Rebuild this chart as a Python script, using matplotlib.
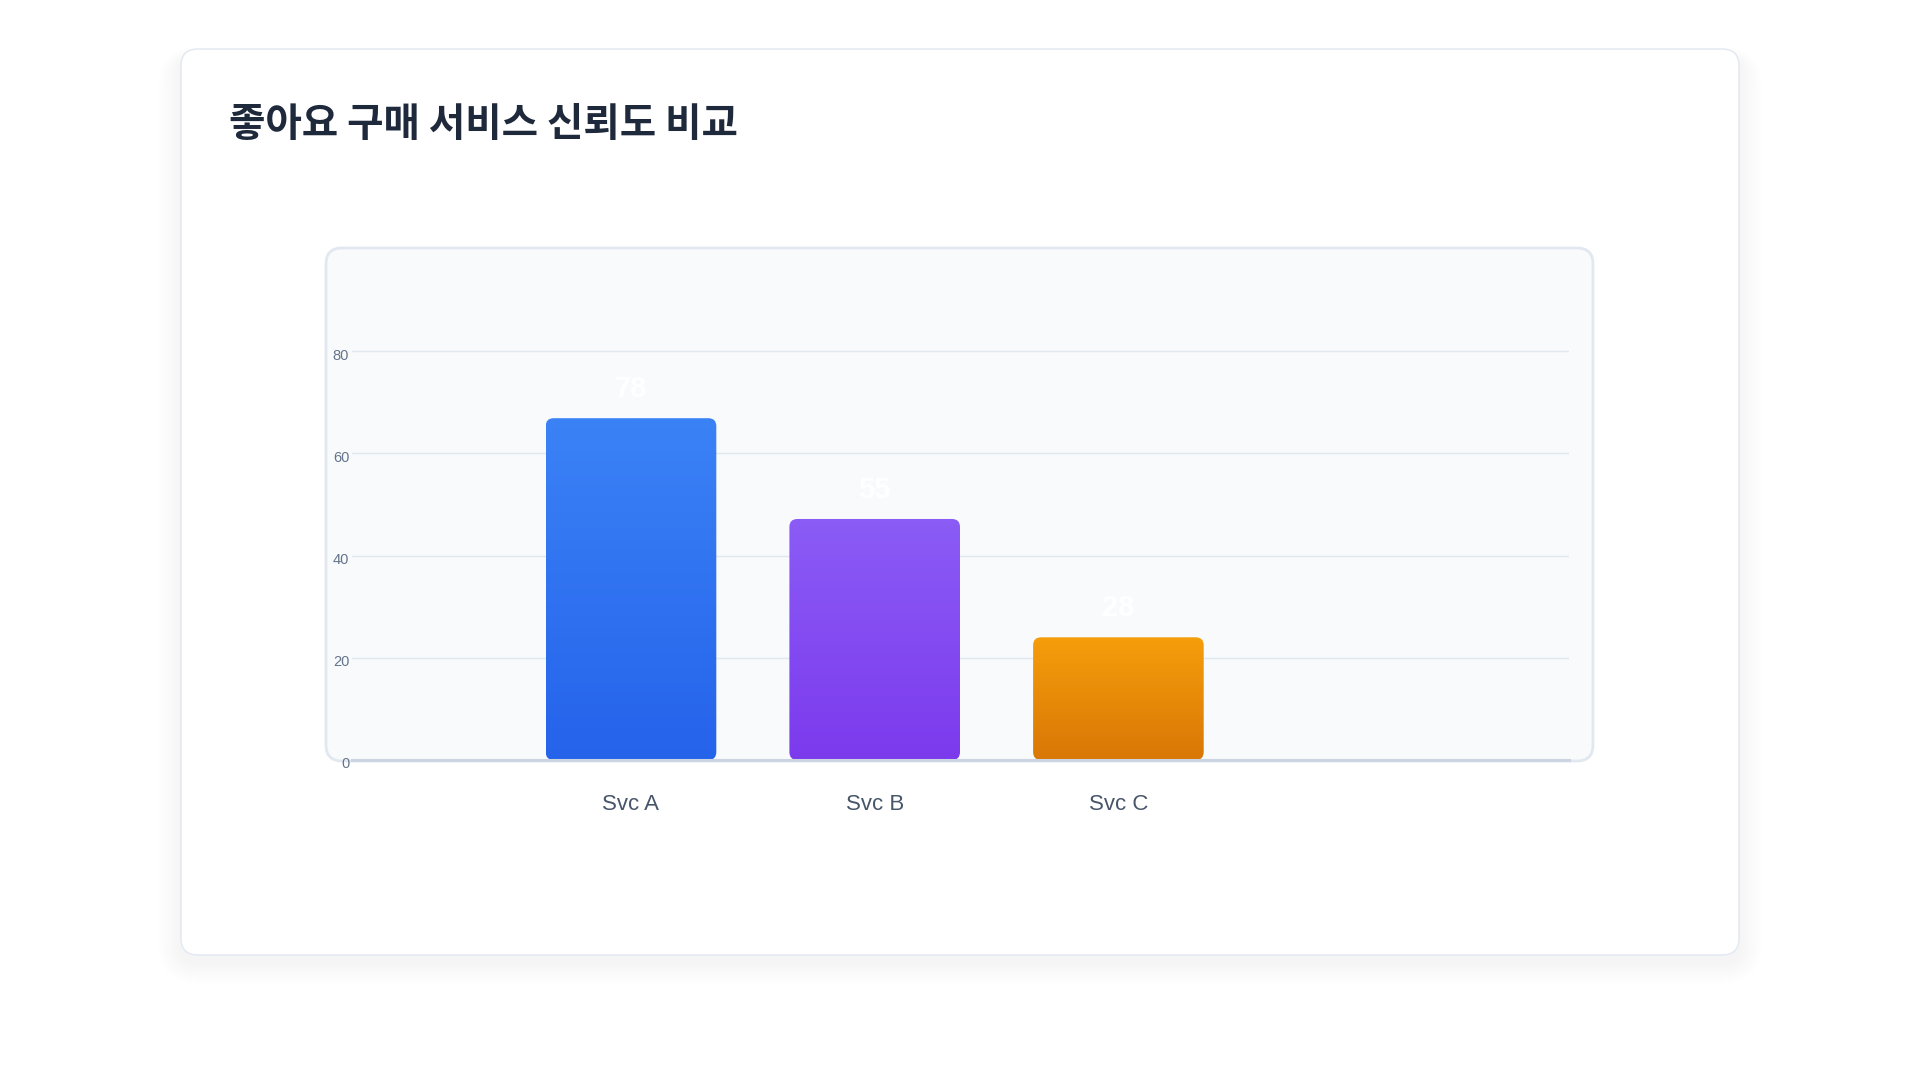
import numpy as np
import matplotlib
matplotlib.use("Agg")
import matplotlib.pyplot as plt
from matplotlib.patches import FancyBboxPatch
from matplotlib.colors import LinearSegmentedColormap
from matplotlib.transforms import ScaledTranslation

# ---- data ----
categories = ["Svc A", "Svc B", "Svc C"]
values = [78, 55, 28]
tick_labels = [0, 20, 40, 60, 80]
title = "좋아요 구매 서비스 신뢰도 비교"

# gradient colours (top, bottom)
bar_colors = [("#3b82f6", "#2563eb"), ("#8b5cf6", "#7c3aed"), ("#f59e0b", "#d97706")]

W, H, DPI = 1920, 1080, 100
fig = plt.figure(figsize=(W / DPI, H / DPI), dpi=DPI)
fig.patch.set_facecolor("white")

def px_box(x0, y0, x1, y1):
    """convert pixel box (top-left origin) to figure fraction"""
    return x0 / W, 1 - y1 / H, (x1 - x0) / W, (y1 - y0) / H

# ---- card with soft shadow ----
cx0, cy0, cx1, cy1 = 181, 49, 1739, 955
for i in range(10):
    spread = 26 - i * 2.6
    x, y, w, h = px_box(cx0 - spread * 0.9, cy0 + 6 - spread * 0.3, cx1 + spread * 0.9, cy1 + 8 + spread * 0.8)
    fig.patches.append(FancyBboxPatch((x, y), w, h,
        boxstyle=f"round,pad=0,rounding_size={(17 + spread) / W}",
        mutation_aspect=W / H, transform=fig.transFigure,
        facecolor="#1e293b", edgecolor="none", alpha=0.0045, zorder=0))
x, y, w, h = px_box(cx0, cy0, cx1, cy1)
fig.patches.append(FancyBboxPatch((x, y), w, h,
    boxstyle=f"round,pad=0,rounding_size={17 / W}", mutation_aspect=W / H,
    transform=fig.transFigure, facecolor="white", edgecolor="#e2e8f0",
    linewidth=1.0, zorder=1))

# ---- inner panel ----
px0, py0, px1, py1 = 326, 248, 1593, 761
x, y, w, h = px_box(px0, py0, px1, py1)
fig.patches.append(FancyBboxPatch((x, y), w, h,
    boxstyle=f"round,pad=0,rounding_size={16 / W}", mutation_aspect=W / H,
    transform=fig.transFigure, facecolor="#f8fafc", edgecolor="#e2e8f0",
    linewidth=2.0, zorder=2))

# ---- title ----
fig.text(229 / W, 1 - 124 / H, title, ha="left", va="center",
         fontsize=28.5, fontweight="bold", color="#1e293b",
         family=["Noto Sans CJK KR", "DejaVu Sans"], zorder=5)

# ---- axes ----
ax_l, ax_r, ax_b, ax_t = 352, 1569, 760, 270
grid80_px = 351
ax = fig.add_axes([ax_l / W, 1 - ax_b / H, (ax_r - ax_l) / W, (ax_b - ax_t) / H])
ax.set_zorder(3)
ax.patch.set_alpha(0)

tick_scale = 7 / 6  # axis label units -> bar value units
top_val = tick_labels[-1] * tick_scale * (ax_b - ax_t) / (ax_b - grid80_px)

xpos = np.arange(len(categories))
bar_w = 0.70
unit_px = 243.7
x_lim = (-(631 - ax_l) / unit_px, (ax_r - 631) / unit_px)

bars = ax.bar(xpos, values, width=bar_w, color="none", edgecolor="none")

# gradient rounded bars
ypx_per_unit = (ax_b - ax_t) / top_val
r_px = 8
for rect, (ctop, cbot) in zip(bars.patches, bar_colors):
    bx, bw, bh = rect.get_x(), rect.get_width(), rect.get_height()
    patch = FancyBboxPatch((bx, 0), bw, bh,
        boxstyle=f"round,pad=0,rounding_size={r_px / unit_px}",
        mutation_aspect=unit_px / ypx_per_unit,
        facecolor="none", edgecolor="none", transform=ax.transData)
    ax.add_patch(patch)
    cmap = LinearSegmentedColormap.from_list("g", [cbot, ctop])
    grad = np.linspace(0, 1, 256).reshape(-1, 1)
    im = ax.imshow(grad, extent=(bx, bx + bw, 0, bh), origin="lower",
                   cmap=cmap, aspect="auto", zorder=2)
    im.set_clip_path(patch)

ax.set_xlim(*x_lim)
ax.set_ylim(0, top_val)

# value labels
for xi, v in zip(xpos, values):
    ax.annotate(str(v), (xi, v), xytext=(0, 23), textcoords="offset points",
                ha="center", va="center_baseline", fontsize=21, fontweight="bold",
                color="white", family="Liberation Sans", zorder=4)

# y ticks / grid
ax.set_yticks([t * tick_scale for t in tick_labels])
ax.set_yticklabels([str(t) for t in tick_labels])
ax.tick_params(axis="y", length=0, pad=2, labelsize=10.5, labelcolor="#64748b")
for lab in ax.get_yticklabels():
    lab.set_family("Liberation Sans")
    lab.set_transform(lab.get_transform() + ScaledTranslation(0, -3 / DPI, fig.dpi_scale_trans))
ax.yaxis.grid(True, color="#e2e8f0", linewidth=1.0)
ax.set_axisbelow(True)

# x ticks
ax.set_xticks(xpos)
ax.set_xticklabels(categories)
ax.tick_params(axis="x", length=0, pad=24.5, labelsize=16, labelcolor="#475569")
for lab in ax.get_xticklabels():
    lab.set_family("Liberation Sans")

for s in ["top", "right", "left"]:
    ax.spines[s].set_visible(False)
ax.spines["bottom"].set_color("#cbd5e1")
ax.spines["bottom"].set_linewidth(2.2)

fig.savefig("out.png", dpi=DPI, facecolor="white")
